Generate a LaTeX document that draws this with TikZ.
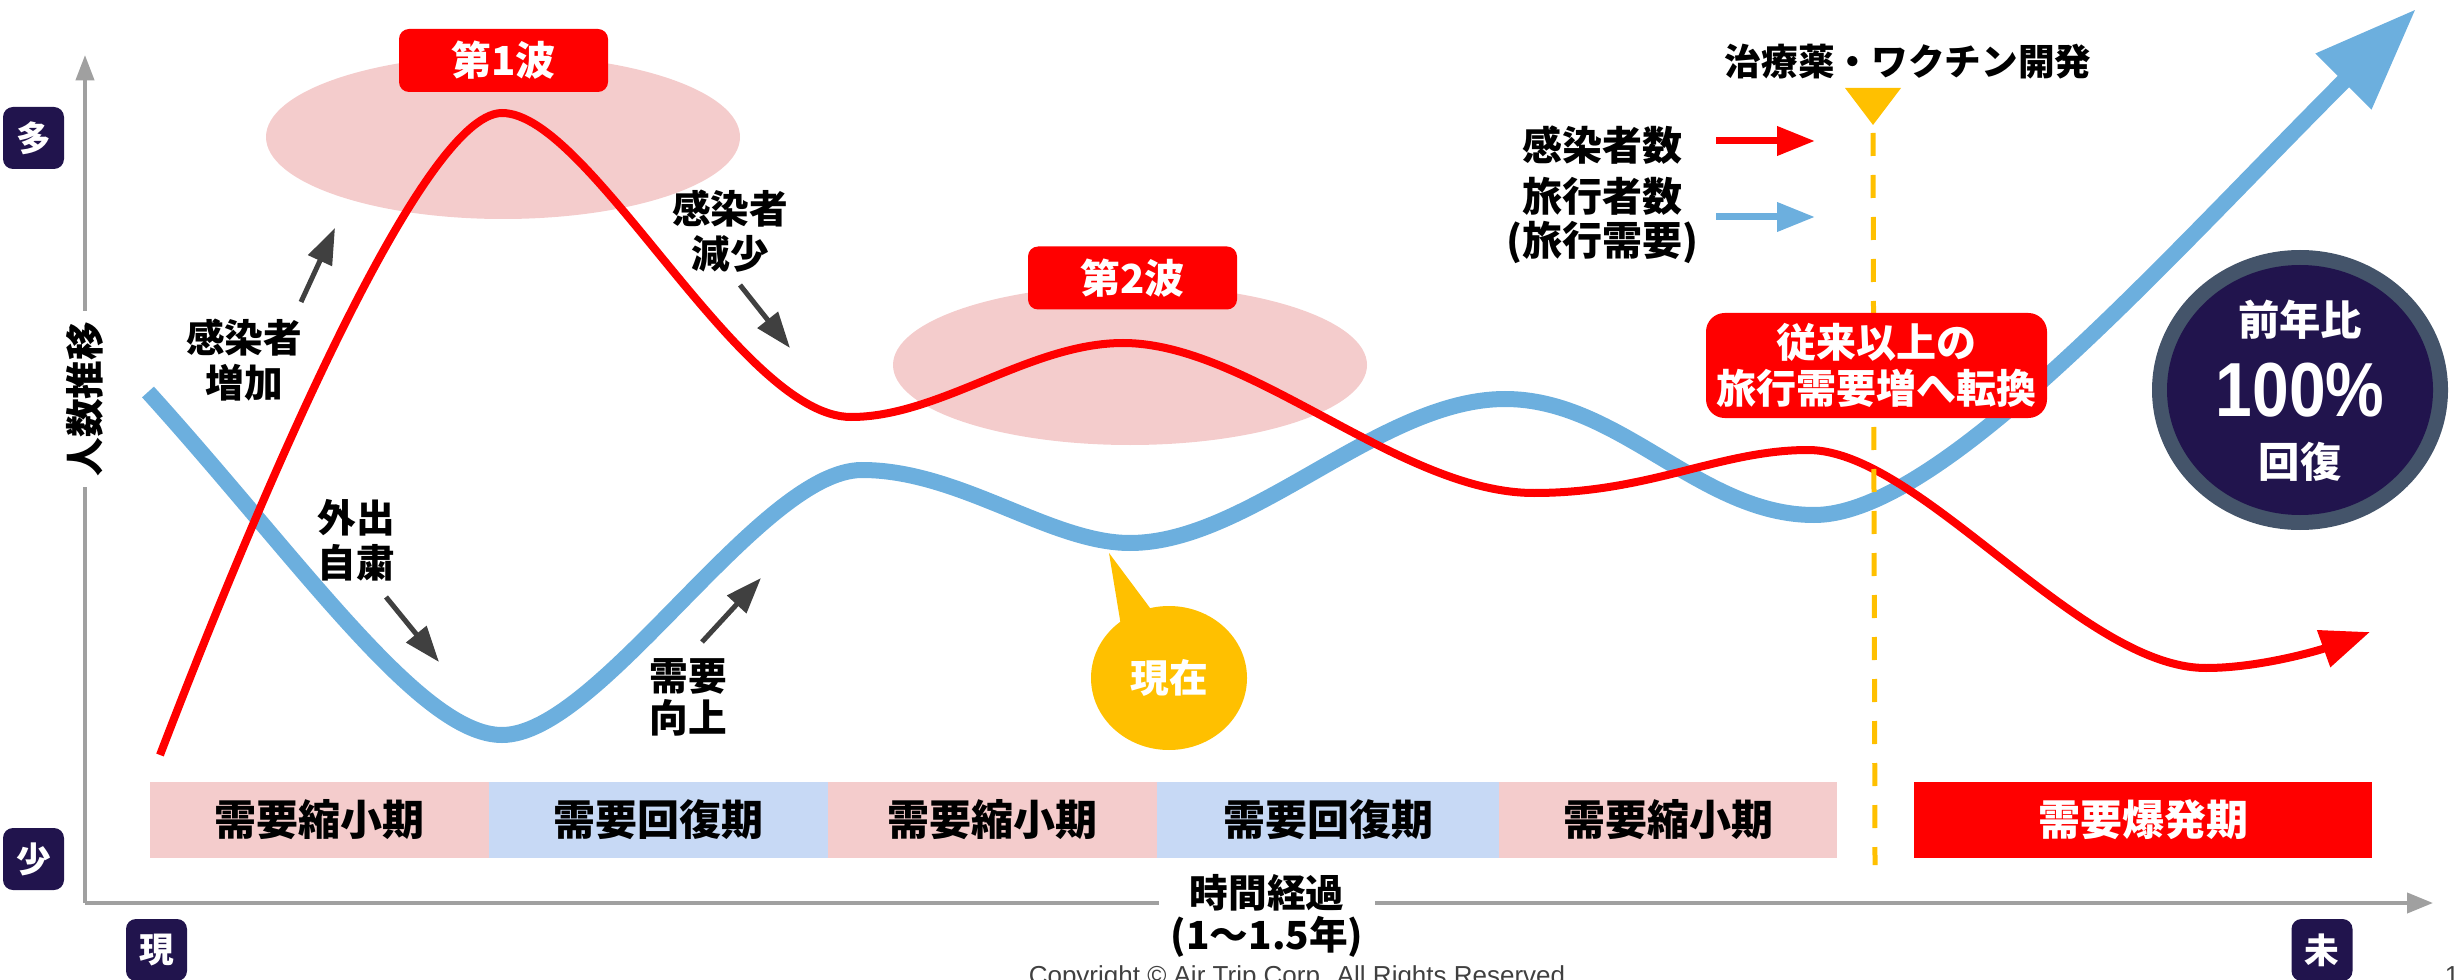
\documentclass[tikz,border=0pt]{standalone}
\usepackage{fontspec}
\setmainfont{Noto Sans CJK JP}
\newfontfamily\numfont[FakeStretch=0.86]{Liberation Sans}
\newfontfamily\copyfont{Liberation Sans}
\usetikzlibrary{arrows.meta}

\definecolor{infred}{RGB}{255,0,0}
\definecolor{trvblue}{RGB}{108,175,222}
\definecolor{wavepink}{RGB}{244,204,204}
\definecolor{bandblue}{RGB}{199,217,245}
\definecolor{axisgray}{RGB}{160,160,160}
\definecolor{darkarrow}{RGB}{64,64,64}
\definecolor{navy}{RGB}{33,20,77}
\definecolor{slate}{RGB}{68,84,106}
\definecolor{amber}{RGB}{255,192,0}

\begin{document}
\begin{tikzpicture}[x=0.75pt,y=0.75pt,yscale=-1,xscale=1,
  lbl/.style={font=\fontsize{29}{34}\selectfont\bfseries,align=center,inner sep=0pt},
  bandtext/.style={font=\fontsize{31.5}{36}\selectfont\bfseries,inner sep=0pt},
  wavebox/.style={fill=infred,text=white,rounded corners=7.5pt,minimum width=156.75pt,minimum height=47.25pt,inner sep=0pt,font=\fontsize{30}{34}\selectfont\bfseries},
  endbox/.style={fill=navy,text=white,rounded corners=7.5pt,minimum width=45.75pt,minimum height=46.5pt,inner sep=0pt,font=\fontsize{26}{30}\selectfont\bfseries},
  axisline/.style={axisgray,line width=3pt},
  darkarr/.style={darkarrow,line width=3.75pt,-{Triangle[length=27pt,width=19pt]}},
  redline/.style={infred,line width=6pt},
  blueline/.style={trvblue,line width=12pt}]
  \path[use as bounding box] (0,0) rectangle (2458,980);

  % wave ellipses
  \fill[wavepink] (503,137) ellipse [x radius=237,y radius=82];
  \fill[wavepink] (1130,365) ellipse [x radius=237,y radius=80];

  % period bands
  \foreach \xa/\xb/\bc/\tc/\txt [count=\i] in {150/489/wavepink/black/需要縮小期,489/828/bandblue/black/需要回復期,828/1157/wavepink/black/需要縮小期,1157/1499/bandblue/black/需要回復期,1499/1837/wavepink/black/需要縮小期,1914/2372/infred/white/需要爆発期}{
    \fill[\bc] (\xa,782) rectangle (\xb,858);
    \node (band\i) at ({(\xa+\xb)/2},820) [bandtext,text=\tc] {\txt};
  }

  % axes
  \coordinate (O) at (85,903);
  \coordinate (ytop) at (85,55);
  \coordinate (xend) at (2433,903);
  \draw[axisline,-{Triangle[length=19pt,width=13.5pt]}] (O) -- (ytop);
  \draw[axisline,-{Triangle[length=19.5pt,width=15pt]}] (O) -- (xend);
  \node (yname) at (85,399) [lbl,rotate=90,fill=white,inner xsep=8pt,inner ysep=2pt] {人数推移};
  \node (xname) at (1267,916) [lbl,fill=white,inner xsep=9pt,inner ysep=2pt,font=\fontsize{29}{31.5}\selectfont\bfseries] {時間経過\\(1～1.5年)};

  % scale boxes
  \node (many) at (33.5,138) [endbox] {多};
  \node (few) at (33.5,859) [endbox] {少};
  \node (now0) at (156.5,950) [endbox] {現};
  \node (fut) at (2322,950) [endbox] {未};

  % travellers
  \draw[blueline,-{Triangle[length=77pt,width=56pt]}] (148,392) .. controls (300,560) and (420,735) .. (502,735)
    .. controls (600,735) and (760,470) .. (862,470)
    .. controls (960,470) and (1050,543) .. (1130,543)
    .. controls (1250,543) and (1380,399) .. (1505,399)
    .. controls (1620,399) and (1700,515) .. (1814,515)
    .. controls (1940,515) and (2160,265) .. (2416,9);

  % infected
  \draw[redline,-{Triangle[length=37pt,width=28pt]}] (160,755) .. controls (250,520) and (420,113) .. (502,113)
    .. controls (590,113) and (740,417) .. (851,417)
    .. controls (940,417) and (1030,343) .. (1123,343)
    .. controls (1250,343) and (1400,493) .. (1534,493)
    .. controls (1650,493) and (1720,450) .. (1808,450)
    .. controls (1920,450) and (2080,668) .. (2206,668)
    .. controls (2260,668) and (2320,650) .. (2370,632);

  % vaccine marker
  \coordinate (vactop) at (1873,133);
  \coordinate (vacbot) at (1875,865);
  \fill[amber] (1845,88) -- (1901,88) -- (1873,125) -- cycle;
  \draw[amber,line width=3.75pt,dash pattern=on 17.25pt off 14.25pt] (vactop) -- (vacbot);
  \node (vac) at (1908,62) [lbl,font=\fontsize{27.5}{32}\selectfont\bfseries] {治療薬・ワクチン開発};

  % wave labels
  \node (wave1) at (503.5,60.5) [wavebox] {第1波};
  \node (wave2) at (1132.5,278) [wavebox] {第2波};

  % trend notes
  \node (inc) at (244,360) [lbl] {感染者\\増加};
  \node (dec) at (730,231) [lbl] {感染者\\減少};
  \node (stay) at (356,540) [lbl] {外出\\自粛};
  \node (rec) at (688,697) [lbl,font=\fontsize{29}{31.5}\selectfont\bfseries] {需要\\向上};
  \coordinate (incS) at (301,302); \coordinate (incE) at (335,228);
  \coordinate (decS) at (740,285); \coordinate (decE) at (790,348);
  \coordinate (stayS) at (386,597); \coordinate (stayE) at (439,662);
  \coordinate (recS) at (702,642); \coordinate (recE) at (761,578);
  \draw[darkarr] (incS) -- (incE);
  \draw[darkarr] (decS) -- (decE);
  \draw[darkarr] (stayS) -- (stayE);
  \draw[darkarr] (recS) -- (recE);

  % legend
  \node (leginf) at (1602,145) [lbl,font=\fontsize{30}{33}\selectfont\bfseries] {感染者数};
  \node (legtrv) at (1602,220) [lbl,font=\fontsize{30}{33}\selectfont\bfseries] {旅行者数\\(旅行需要)};
  \coordinate (legR1) at (1716,141); \coordinate (legR2) at (1815,141);
  \coordinate (legB1) at (1716,217); \coordinate (legB2) at (1815,217);
  \draw[infred,line width=5.25pt,-{Triangle[length=28.5pt,width=21pt]}] (legR1) -- (legR2);
  \draw[trvblue,line width=5.25pt,-{Triangle[length=28.5pt,width=21pt]}] (legB1) -- (legB2);

  % turning point
  \node (turn) at (1876.5,365.5) [fill=infred,text=white,rounded corners=14pt,minimum width=255.75pt,minimum height=78.75pt,inner sep=0pt,align=center,font=\fontsize{30}{35}\selectfont\bfseries] {従来以上の\\旅行需要増へ転換};

  % present
  \fill[amber] (1169,678) ellipse [x radius=78,y radius=72];
  \fill[amber] (1109,553) -- (1122,632) -- (1156,616) -- cycle;
  \node (now) at (1169,678) [lbl,text=white] {現在};

  % recovery badge
  \fill[slate] (2300,390) ellipse [x radius=148,y radius=140];
  \fill[navy] (2300,390) ellipse [x radius=133,y radius=125];
  \node (yoy) at (2300,320) [lbl,text=white,font=\fontsize{31}{34}\selectfont\bfseries] {前年比};
  \node (pct) at (2300,390) [inner sep=0pt,text=white,font=\numfont\fontsize{57.5}{60}\selectfont\bfseries] {100\%};
  \node (back) at (2300,462) [lbl,text=white,font=\fontsize{31}{34}\selectfont\bfseries] {回復};

  % footer
  \node (copy) at (1297,984) [anchor=base,inner sep=0pt,text=darkarrow,font=\copyfont\fontsize{19.5}{22}\selectfont] {Copyright © Air Trip Corp. All Rights Reserved};
  \node (pageno) at (2452,984) [anchor=base,inner sep=0pt,text=darkarrow,font=\copyfont\fontsize{19.5}{22}\selectfont] {1};
\end{tikzpicture}
\end{document}
